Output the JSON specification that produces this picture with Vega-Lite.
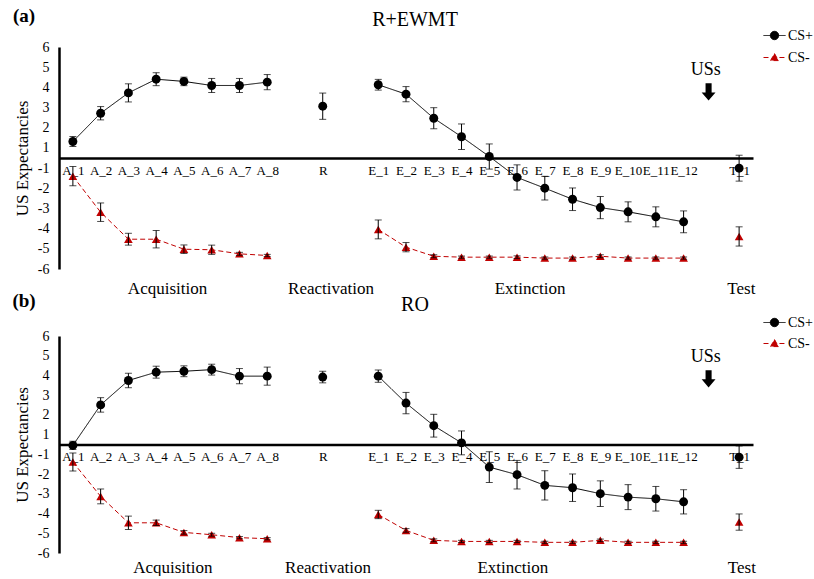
{
  "$schema": "https://vega.github.io/schema/vega-lite/v6.json",
  "padding": {"left": 12, "top": 7, "right": 0, "bottom": 0},
  "config": {
    "font": "Liberation Serif",
    "view": {"stroke": null},
    "concat": {"spacing": -7},
    "axis": {"grid": false, "ticks": false, "domainColor": "black", "domainWidth": 2.5, "labelColor": "black", "labelFont": "Liberation Serif", "titleFont": "Liberation Serif", "titleColor": "black", "titleFontWeight": "normal"},
    "legend": {"labelFont": "Liberation Serif", "labelColor": "black"},
    "title": {"font": "Liberation Serif", "fontWeight": "normal", "fontSize": 20, "color": "black", "anchor": "middle", "frame": "group"},
    "text": {"font": "Liberation Serif", "color": "black"}
  },
  "datasets": {
    "a": [
      {"x": 0, "series": "CS+", "seg": "A", "m": 0.89, "e": 0.27},
      {"x": 1, "series": "CS+", "seg": "A", "m": 2.42, "e": 0.36},
      {"x": 2, "series": "CS+", "seg": "A", "m": 3.52, "e": 0.49},
      {"x": 3, "series": "CS+", "seg": "A", "m": 4.26, "e": 0.35},
      {"x": 4, "series": "CS+", "seg": "A", "m": 4.14, "e": 0.23},
      {"x": 5, "series": "CS+", "seg": "A", "m": 3.92, "e": 0.38},
      {"x": 6, "series": "CS+", "seg": "A", "m": 3.92, "e": 0.38},
      {"x": 7, "series": "CS+", "seg": "A", "m": 4.10, "e": 0.41},
      {"x": 9, "series": "CS+", "seg": "R", "m": 2.80, "e": 0.71},
      {"x": 11, "series": "CS+", "seg": "E", "m": 3.96, "e": 0.29},
      {"x": 12, "series": "CS+", "seg": "E", "m": 3.45, "e": 0.41},
      {"x": 13, "series": "CS+", "seg": "E", "m": 2.15, "e": 0.57},
      {"x": 14, "series": "CS+", "seg": "E", "m": 1.15, "e": 0.69},
      {"x": 15, "series": "CS+", "seg": "E", "m": 0.08, "e": 0.68},
      {"x": 16, "series": "CS+", "seg": "E", "m": -1.05, "e": 0.68},
      {"x": 17, "series": "CS+", "seg": "E", "m": -1.63, "e": 0.64},
      {"x": 18, "series": "CS+", "seg": "E", "m": -2.23, "e": 0.61},
      {"x": 19, "series": "CS+", "seg": "E", "m": -2.68, "e": 0.60},
      {"x": 20, "series": "CS+", "seg": "E", "m": -2.91, "e": 0.54},
      {"x": 21, "series": "CS+", "seg": "E", "m": -3.18, "e": 0.54},
      {"x": 22, "series": "CS+", "seg": "E", "m": -3.45, "e": 0.59},
      {"x": 24, "series": "CS+", "seg": "T", "m": -0.55, "e": 0.70},
      {"x": 0, "series": "CS-", "seg": "A", "m": -0.98, "e": 0.52},
      {"x": 1, "series": "CS-", "seg": "A", "m": -2.93, "e": 0.50},
      {"x": 2, "series": "CS-", "seg": "A", "m": -4.39, "e": 0.32},
      {"x": 3, "series": "CS-", "seg": "A", "m": -4.39, "e": 0.47},
      {"x": 4, "series": "CS-", "seg": "A", "m": -4.93, "e": 0.23},
      {"x": 5, "series": "CS-", "seg": "A", "m": -4.96, "e": 0.25},
      {"x": 6, "series": "CS-", "seg": "A", "m": -5.18, "e": 0.08},
      {"x": 7, "series": "CS-", "seg": "A", "m": -5.27, "e": 0.06},
      {"x": 11, "series": "CS-", "seg": "E", "m": -3.86, "e": 0.51},
      {"x": 12, "series": "CS-", "seg": "E", "m": -4.82, "e": 0.25},
      {"x": 13, "series": "CS-", "seg": "E", "m": -5.31, "e": 0.08},
      {"x": 14, "series": "CS-", "seg": "E", "m": -5.36, "e": 0.06},
      {"x": 15, "series": "CS-", "seg": "E", "m": -5.36, "e": 0.06},
      {"x": 16, "series": "CS-", "seg": "E", "m": -5.36, "e": 0.07},
      {"x": 17, "series": "CS-", "seg": "E", "m": -5.41, "e": 0.06},
      {"x": 18, "series": "CS-", "seg": "E", "m": -5.41, "e": 0.06},
      {"x": 19, "series": "CS-", "seg": "E", "m": -5.31, "e": 0.08},
      {"x": 20, "series": "CS-", "seg": "E", "m": -5.41, "e": 0.06},
      {"x": 21, "series": "CS-", "seg": "E", "m": -5.41, "e": 0.06},
      {"x": 22, "series": "CS-", "seg": "E", "m": -5.41, "e": 0.06},
      {"x": 24, "series": "CS-", "seg": "T", "m": -4.24, "e": 0.52}
    ],
    "b": [
      {"x": 0, "series": "CS+", "seg": "A", "m": -0.05, "e": 0.23},
      {"x": 1, "series": "CS+", "seg": "A", "m": 2.19, "e": 0.40},
      {"x": 2, "series": "CS+", "seg": "A", "m": 3.54, "e": 0.40},
      {"x": 3, "series": "CS+", "seg": "A", "m": 4.00, "e": 0.33},
      {"x": 4, "series": "CS+", "seg": "A", "m": 4.05, "e": 0.30},
      {"x": 5, "series": "CS+", "seg": "A", "m": 4.14, "e": 0.30},
      {"x": 6, "series": "CS+", "seg": "A", "m": 3.78, "e": 0.42},
      {"x": 7, "series": "CS+", "seg": "A", "m": 3.78, "e": 0.50},
      {"x": 9, "series": "CS+", "seg": "R", "m": 3.73, "e": 0.32},
      {"x": 11, "series": "CS+", "seg": "E", "m": 3.78, "e": 0.34},
      {"x": 12, "series": "CS+", "seg": "E", "m": 2.29, "e": 0.59},
      {"x": 13, "series": "CS+", "seg": "E", "m": 1.04, "e": 0.63},
      {"x": 14, "series": "CS+", "seg": "E", "m": 0.09, "e": 0.66},
      {"x": 15, "series": "CS+", "seg": "E", "m": -1.25, "e": 0.85},
      {"x": 16, "series": "CS+", "seg": "E", "m": -1.67, "e": 0.79},
      {"x": 17, "series": "CS+", "seg": "E", "m": -2.26, "e": 0.81},
      {"x": 18, "series": "CS+", "seg": "E", "m": -2.39, "e": 0.76},
      {"x": 19, "series": "CS+", "seg": "E", "m": -2.72, "e": 0.71},
      {"x": 20, "series": "CS+", "seg": "E", "m": -2.91, "e": 0.69},
      {"x": 21, "series": "CS+", "seg": "E", "m": -3.00, "e": 0.68},
      {"x": 22, "series": "CS+", "seg": "E", "m": -3.17, "e": 0.67},
      {"x": 24, "series": "CS+", "seg": "T", "m": -0.70, "e": 0.62},
      {"x": 0, "series": "CS-", "seg": "A", "m": -0.97, "e": 0.50},
      {"x": 1, "series": "CS-", "seg": "A", "m": -2.87, "e": 0.41},
      {"x": 2, "series": "CS-", "seg": "A", "m": -4.33, "e": 0.37},
      {"x": 3, "series": "CS-", "seg": "A", "m": -4.33, "e": 0.15},
      {"x": 4, "series": "CS-", "seg": "A", "m": -4.86, "e": 0.10},
      {"x": 5, "series": "CS-", "seg": "A", "m": -4.99, "e": 0.08},
      {"x": 6, "series": "CS-", "seg": "A", "m": -5.15, "e": 0.06},
      {"x": 7, "series": "CS-", "seg": "A", "m": -5.21, "e": 0.06},
      {"x": 11, "series": "CS-", "seg": "E", "m": -3.87, "e": 0.23},
      {"x": 12, "series": "CS-", "seg": "E", "m": -4.75, "e": 0.10},
      {"x": 13, "series": "CS-", "seg": "E", "m": -5.30, "e": 0.08},
      {"x": 14, "series": "CS-", "seg": "E", "m": -5.36, "e": 0.06},
      {"x": 15, "series": "CS-", "seg": "E", "m": -5.36, "e": 0.06},
      {"x": 16, "series": "CS-", "seg": "E", "m": -5.36, "e": 0.06},
      {"x": 17, "series": "CS-", "seg": "E", "m": -5.41, "e": 0.06},
      {"x": 18, "series": "CS-", "seg": "E", "m": -5.41, "e": 0.06},
      {"x": 19, "series": "CS-", "seg": "E", "m": -5.30, "e": 0.07},
      {"x": 20, "series": "CS-", "seg": "E", "m": -5.41, "e": 0.06},
      {"x": 21, "series": "CS-", "seg": "E", "m": -5.41, "e": 0.06},
      {"x": 22, "series": "CS-", "seg": "E", "m": -5.41, "e": 0.06},
      {"x": 24, "series": "CS-", "seg": "T", "m": -4.29, "e": 0.45}
    ],
    "anA": [
      {"x": -1.76, "m": 7.65, "t": "(a)", "kind": "tag"},
      {"x": 22.8, "m": 4.78, "t": "USs", "kind": "us"},
      {"x": 22.9, "m": 3.57, "t": "", "kind": "arrow"},
      {"x": 3.41, "m": -7.1, "t": "Acquisition", "kind": "phase"},
      {"x": 9.3, "m": -7.1, "t": "Reactivation", "kind": "phase"},
      {"x": 16.47, "m": -7.1, "t": "Extinction", "kind": "phase"},
      {"x": 24.08, "m": -7.1, "t": "Test", "kind": "phase"}
    ],
    "anB": [
      {"x": -1.76, "m": 7.94, "t": "(b)", "kind": "tag"},
      {"x": 22.8, "m": 4.82, "t": "USs", "kind": "us"},
      {"x": 22.9, "m": 3.63, "t": "", "kind": "arrow"},
      {"x": 3.6, "m": -6.81, "t": "Acquisition", "kind": "phase"},
      {"x": 9.19, "m": -6.81, "t": "Reactivation", "kind": "phase"},
      {"x": 15.85, "m": -6.81, "t": "Extinction", "kind": "phase"},
      {"x": 24.1, "m": -6.81, "t": "Test", "kind": "phase"}
    ]
  },
  "vconcat": [
    {
      "width": 694,
      "height": 222,
      "title": {"text": "R+EWMT", "dx": 9, "offset": -23},
      "encoding": {
        "x": {"field": "x", "type": "quantitative", "scale": {"domain": [-0.5, 24.5], "nice": false, "zero": false},
          "axis": {"title": null, "offset": -111, "labelPadding": 6, "labelFontSize": 13, "labelFont": "Liberation Serif", "labelFlush": false, "labelOverlap": false,
            "values": [0,1,2,3,4,5,6,7,9,11,12,13,14,15,16,17,18,19,20,21,22,24],
            "labelExpr": "['A_1','A_2','A_3','A_4','A_5','A_6','A_7','A_8','','R','','E_1','E_2','E_3','E_4','E_5','E_6','E_7','E_8','E_9','E_10','E_11','E_12','','T_1'][datum.value]"}},
        "y": {"field": "m", "type": "quantitative", "scale": {"domain": [-6, 6], "nice": false, "zero": false},
          "axis": {"title": "US Expectancies", "titleFont": "Liberation Serif", "titleFontSize": 17, "titlePadding": 6, "labelFontSize": 14, "labelFont": "Liberation Serif", "labelPadding": 10, "labelOverlap": false, "labelFlush": false,
            "values": [6, 4.909, 3.818, 2.727, 1.636, 0.545, -0.545, -1.636, -2.727, -3.818, -4.909, -6],
            "labelExpr": "round(datum.value*11/12 + (datum.value > 0 ? 0.5 : -0.5))"}}
      },
      "layer": [
        {"data": {"name": "a"},
          "mark": {"type": "line", "strokeWidth": 1},
          "encoding": {
            "detail": {"field": "seg"},
            "color": {"field": "series", "type": "nominal", "scale": {"domain": ["CS+", "CS-"], "range": ["black", "#c00000"]},
              "legend": {"title": null, "orient": "none", "legendX": 704, "legendY": -23, "rowPadding": 3, "labelFontSize": 14, "labelFont": "Liberation Serif", "labelColor": "black", "labelOffset": 2, "symbolSize": 484, "padding": 0,
                "encode": {"symbols": {"update": {
                  "shape": {"signal": "datum.value === 'CS+' ? 'M-1,0L1,0M0.38,0A0.38,0.38,0,1,1,-0.38,0A0.38,0.38,0,1,1,0.38,0Z' : 'M-1,0L-0.45,0M0.45,0L1,0M0,-0.36L0.36,0.28L-0.36,0.28Z'"},
                  "fill": {"signal": "datum.value === 'CS+' ? 'black' : '#c00000'"},
                  "strokeWidth": {"value": 1},
                  "size": {"value": 484}
                }}}}},
            "strokeDash": {"field": "series", "type": "nominal", "scale": {"domain": ["CS+", "CS-"], "range": [[1, 0], [5, 3]]}, "legend": null}
          }},
        {"data": {"name": "a"}, "transform": [{"filter": "datum.series === 'CS+'"}],
          "mark": {"type": "point", "filled": true, "opacity": 1, "size": 80, "shape": "circle", "color": "black"}},
        {"data": {"name": "a"}, "transform": [{"filter": "datum.series === 'CS-'"}],
          "mark": {"type": "point", "filled": true, "opacity": 1, "size": 75, "shape": "triangle-up", "color": "#c00000"}},
        {"data": {"name": "a"},
          "mark": {"type": "errorbar", "ticks": {"size": 7, "color": "black"}, "color": "black", "thickness": 1},
          "encoding": {"yError": {"field": "e"}}},
        {"data": {"name": "anA"}, "transform": [{"filter": "datum.kind === 'phase'"}],
          "mark": {"type": "text", "fontSize": 17, "baseline": "middle"}, "encoding": {"text": {"field": "t"}}},
        {"data": {"name": "anA"}, "transform": [{"filter": "datum.kind === 'us'"}],
          "mark": {"type": "text", "fontSize": 18, "baseline": "middle"}, "encoding": {"text": {"field": "t"}}},
        {"data": {"name": "anA"}, "transform": [{"filter": "datum.kind === 'tag'"}],
          "mark": {"type": "text", "fontSize": 19, "fontWeight": "bold", "baseline": "middle"}, "encoding": {"text": {"field": "t"}}},
        {"data": {"name": "anA"}, "transform": [{"filter": "datum.kind === 'arrow'"}],
          "mark": {"type": "point", "filled": true, "opacity": 1, "color": "black", "size": 300, "shape": "M-0.35,-1L0.35,-1L0.35,0.05L0.8,0.05L0,1L-0.8,0.05L-0.35,0.05Z"}}
      ]
    },
    {
      "width": 694,
      "height": 217,
      "title": {"text": "RO", "dx": 9, "offset": -23},
      "encoding": {
        "x": {"field": "x", "type": "quantitative", "scale": {"domain": [-0.5, 24.5], "nice": false, "zero": false},
          "axis": {"title": null, "offset": -108.5, "labelPadding": 6, "labelFontSize": 13, "labelFont": "Liberation Serif", "labelFlush": false, "labelOverlap": false,
            "values": [0,1,2,3,4,5,6,7,9,11,12,13,14,15,16,17,18,19,20,21,22,24],
            "labelExpr": "['A_1','A_2','A_3','A_4','A_5','A_6','A_7','A_8','','R','','E_1','E_2','E_3','E_4','E_5','E_6','E_7','E_8','E_9','E_10','E_11','E_12','','T_1'][datum.value]"}},
        "y": {"field": "m", "type": "quantitative", "scale": {"domain": [-6, 6], "nice": false, "zero": false},
          "axis": {"title": "US Expectancies", "titleFont": "Liberation Serif", "titleFontSize": 17, "titlePadding": 6, "labelFontSize": 14, "labelFont": "Liberation Serif", "labelPadding": 10, "labelOverlap": false, "labelFlush": false,
            "values": [6, 4.909, 3.818, 2.727, 1.636, 0.545, -0.545, -1.636, -2.727, -3.818, -4.909, -6],
            "labelExpr": "round(datum.value*11/12 + (datum.value > 0 ? 0.5 : -0.5))"}}
      },
      "layer": [
        {"data": {"name": "b"},
          "mark": {"type": "line", "strokeWidth": 1},
          "encoding": {
            "detail": {"field": "seg"},
            "color": {"field": "series", "type": "nominal", "scale": {"domain": ["CS+", "CS-"], "range": ["black", "#c00000"]},
              "legend": {"title": null, "orient": "none", "legendX": 704, "legendY": -25, "rowPadding": 2, "labelFontSize": 14, "labelFont": "Liberation Serif", "labelColor": "black", "labelOffset": 2, "symbolSize": 484, "padding": 0,
                "encode": {"symbols": {"update": {
                  "shape": {"signal": "datum.value === 'CS+' ? 'M-1,0L1,0M0.38,0A0.38,0.38,0,1,1,-0.38,0A0.38,0.38,0,1,1,0.38,0Z' : 'M-1,0L-0.45,0M0.45,0L1,0M0,-0.36L0.36,0.28L-0.36,0.28Z'"},
                  "fill": {"signal": "datum.value === 'CS+' ? 'black' : '#c00000'"},
                  "strokeWidth": {"value": 1},
                  "size": {"value": 484}
                }}}}},
            "strokeDash": {"field": "series", "type": "nominal", "scale": {"domain": ["CS+", "CS-"], "range": [[1, 0], [5, 3]]}, "legend": null}
          }},
        {"data": {"name": "b"}, "transform": [{"filter": "datum.series === 'CS+'"}],
          "mark": {"type": "point", "filled": true, "opacity": 1, "size": 80, "shape": "circle", "color": "black"}},
        {"data": {"name": "b"}, "transform": [{"filter": "datum.series === 'CS-'"}],
          "mark": {"type": "point", "filled": true, "opacity": 1, "size": 75, "shape": "triangle-up", "color": "#c00000"}},
        {"data": {"name": "b"},
          "mark": {"type": "errorbar", "ticks": {"size": 7, "color": "black"}, "color": "black", "thickness": 1},
          "encoding": {"yError": {"field": "e"}}},
        {"data": {"name": "anB"}, "transform": [{"filter": "datum.kind === 'phase'"}],
          "mark": {"type": "text", "fontSize": 17, "baseline": "middle"}, "encoding": {"text": {"field": "t"}}},
        {"data": {"name": "anB"}, "transform": [{"filter": "datum.kind === 'us'"}],
          "mark": {"type": "text", "fontSize": 18, "baseline": "middle"}, "encoding": {"text": {"field": "t"}}},
        {"data": {"name": "anB"}, "transform": [{"filter": "datum.kind === 'tag'"}],
          "mark": {"type": "text", "fontSize": 19, "fontWeight": "bold", "baseline": "middle"}, "encoding": {"text": {"field": "t"}}},
        {"data": {"name": "anB"}, "transform": [{"filter": "datum.kind === 'arrow'"}],
          "mark": {"type": "point", "filled": true, "opacity": 1, "color": "black", "size": 300, "shape": "M-0.35,-1L0.35,-1L0.35,0.05L0.8,0.05L0,1L-0.8,0.05L-0.35,0.05Z"}}
      ]
    }
  ],
  "resolve": {"scale": {"color": "independent", "strokeDash": "independent", "x": "independent", "y": "independent"}, "legend": {"color": "independent", "strokeDash": "independent"}}
}
